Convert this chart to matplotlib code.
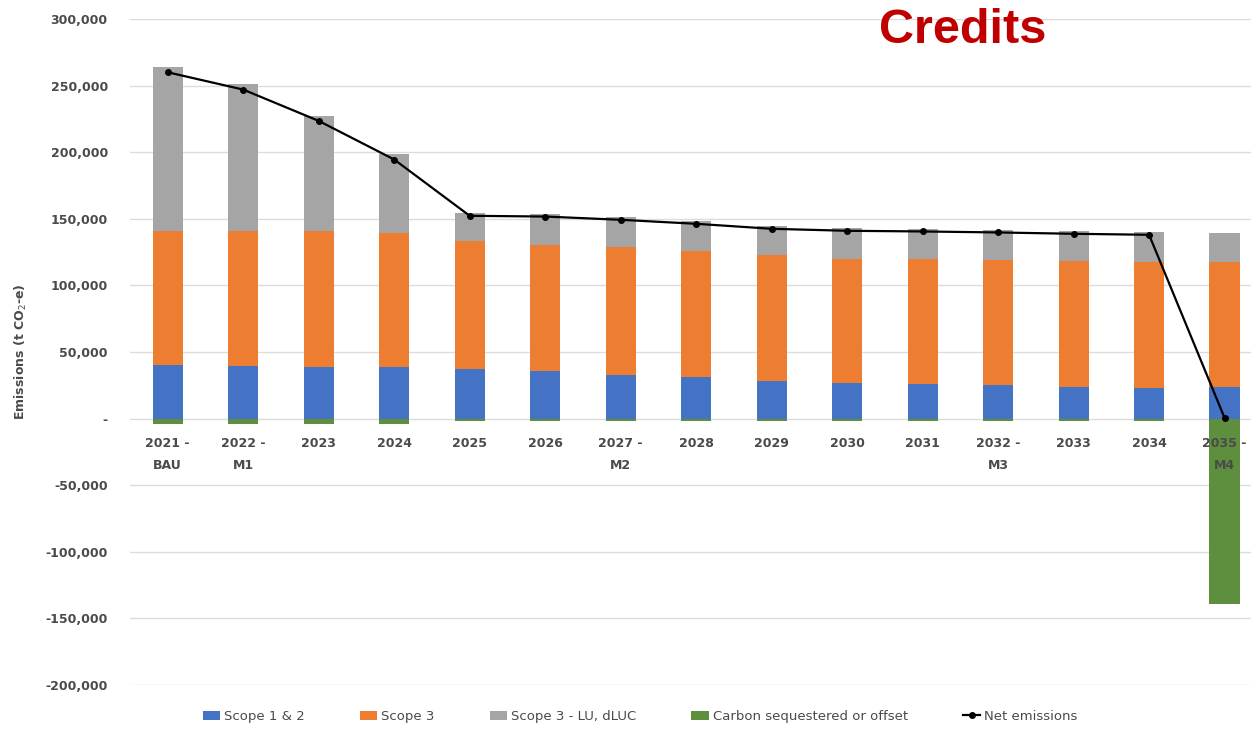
import numpy as np
import matplotlib
matplotlib.use('Agg')
import matplotlib.pyplot as plt
from matplotlib.ticker import FuncFormatter

categories = ['2021 -\nBAU', '2022 -\nM1', '2023', '2024', '2025', '2026', '2027 -\nM2',
              '2028', '2029', '2030', '2031', '2032 -\nM3', '2033', '2034', '2035 -\nM4']
scope12 = [40500, 39750, 39000, 38500, 37000, 36000, 33000, 31000, 28500, 27000,
           26000, 25000, 23500, 23000, 24000]
scope3 = [100500, 101250, 101500, 101000, 96000, 94000, 95750, 94750, 94000, 93000,
          93500, 94000, 95000, 94500, 93750]
scope3_lu = [123000, 110000, 87000, 59000, 21250, 23700, 22500, 22500, 22000, 23000,
             23000, 22750, 22250, 22500, 21750]
carbon = [-4000, -4000, -4000, -4000, -2000, -2000, -2000, -2000, -2000, -2000,
          -2000, -2000, -2000, -2000, -139000]
net = [260000, 247000, 223500, 194500, 152250, 151700, 149250, 146250, 142500, 141000,
       140500, 139750, 138750, 138000, 500]

c_blue = '#4472C4'
c_orange = '#ED7D31'
c_gray = '#A5A5A5'
c_green = '#5E8F3E'
tick_col = '#4A4A4A'

fig = plt.figure(figsize=(12.51, 7.30), dpi=100)
ax = fig.add_axes([130 / 1251, 45 / 730, 1121 / 1251, 666 / 730])

x = np.arange(len(categories))
w = 0.4
s12 = np.array(scope12)
s3 = np.array(scope3)
lu = np.array(scope3_lu)
b1 = ax.bar(x, s12, w, color=c_blue, label='Scope 1 & 2', zorder=2)
b2 = ax.bar(x, s3, w, bottom=s12, color=c_orange, label='Scope 3', zorder=2)
b3 = ax.bar(x, lu, w, bottom=s12 + s3, color=c_gray, label='Scope 3 - LU, dLUC', zorder=2)
b4 = ax.bar(x, carbon, w, color=c_green, label='Carbon sequestered or offset', zorder=2)
ln, = ax.plot(x, net, color='black', lw=1.6, marker='o', ms=4, label='Net emissions', zorder=3)

ax.set_ylim(-200000, 300000)
ax.set_xlim(-0.5, 14.35)
ax.set_yticks(np.arange(-200000, 300001, 50000))
ax.yaxis.set_major_formatter(FuncFormatter(lambda v, p: '-' if v == 0 else f'{v:,.0f}'))
ax.grid(axis='y', color='#DCDCDC', lw=1)
ax.set_axisbelow(True)
for s in ax.spines.values():
    s.set_visible(False)
ax.spines['bottom'].set_position(('data', 0))
ax.set_xticks(x)
ax.set_xticklabels(categories, linespacing=1.9)
ax.xaxis.set_zorder(4)
ax.tick_params(axis='x', length=0, pad=13, labelsize=9, labelcolor=tick_col)
ax.tick_params(axis='y', length=0, pad=16, labelsize=9, labelcolor=tick_col)
for t in ax.get_xticklabels() + ax.get_yticklabels():
    t.set_fontweight('bold')
ax.set_ylabel(r'Emissions (t CO$_2$-e)', fontsize=9, color=tick_col, fontweight='bold', labelpad=12)

handles = [b1, b2, b3, b4, ln]
ax.legend(handles=handles, labels=[h.get_label() for h in handles],
          loc='lower center', bbox_to_anchor=(0.455, -0.075), ncol=5, frameon=False,
          fontsize=9.5, labelcolor=tick_col, handlelength=1.3, handleheight=0.7,
          columnspacing=4.2, handletextpad=0.3)

fig.text(0.703, 1 - 8 / 730, 'Credits', color='#C00000', fontsize=35, fontweight='bold',
         family='Liberation Sans', va='top')

fig.savefig('out.png', dpi=100)
